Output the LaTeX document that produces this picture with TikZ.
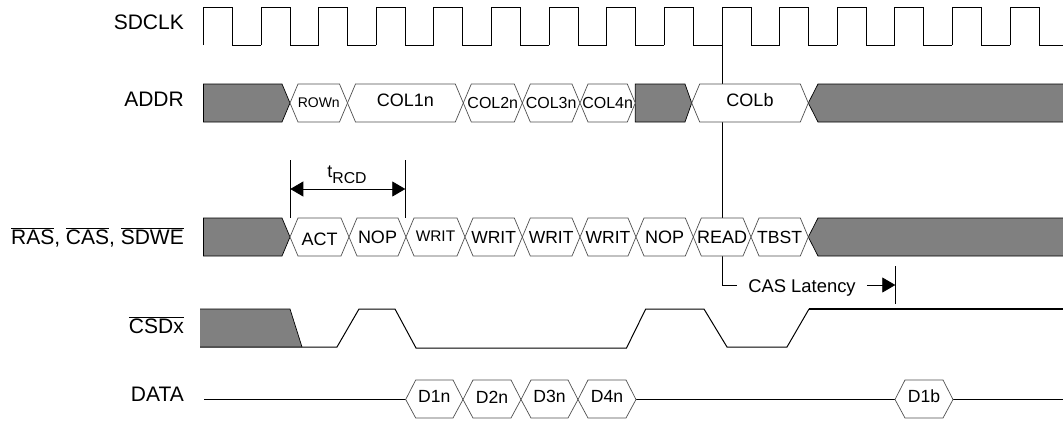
\documentclass[tikz,border=0pt]{standalone}
\usepackage{fontspec}
\setmainfont{Liberation Sans}
\usetikzlibrary{arrows.meta, positioning, calc}
\definecolor{grisBus}{HTML}{808080}
\definecolor{lineaHex}{HTML}{505050}

\begin{document}
\begin{tikzpicture}[x=1pt, y=-1pt,
        sig/.style={draw=black, line width=1pt},
        hexa/.style={draw=lineaHex, line width=0.7pt, fill=white},
        dontcare/.style={draw=black, line width=0.7pt, fill=grisBus},
        rowname/.style={anchor=base east, inner sep=0pt, font=\fontsize{21}{23}\selectfont},
        val/.style={anchor=base, inner sep=0pt},
        dim/.style={{Triangle[length=13pt,width=15pt]}-{Triangle[length=13pt,width=15pt]}, line width=0.8pt},
        lat/.style={-{Triangle[length=13pt,width=15pt]}, line width=0.8pt}]
    \useasboundingbox (0,0) rectangle (1063,421);
    % row names
    \node[rowname] (nclk)  at (184,29.3)  {SDCLK};
    \node[rowname] (naddr) at (184,106)   {ADDR};
    \node[rowname] (ncmd)  at (184,244.3) {$\overline{\mbox{RAS}}$, $\overline{\mbox{CAS}}$, $\overline{\mbox{SDWE}}$};
    \node[rowname] (ncs)   at (184,333.3) {$\overline{\mbox{CSDx}}$};
    \node[rowname] (ndata) at (184,401.7) {DATA};
    % clock
    \foreach \x in {203.5,261.1,318.7,376.3,433.9,491.5,549.1,606.7,664.3,722,779.5,837,894.7,952}
        \draw[sig] (\x,45) -- (\x,7) -- (\x+29,7) -- (\x+29,45) -- (\x+57.6,45);
    \draw[sig] (1010,45) -- (1010,7) -- (1039,7) -- (1039,45) -- (1063,45);
    % markers
    \coordinate (edge) at (722.3,45);
    \coordinate (tickA) at (290.3,160);
    \coordinate (tickB) at (405.3,160);
    \coordinate (dimA) at (290.3,189);
    \coordinate (dimB) at (405.3,189);
    \coordinate (castick) at (895.3,285);
    \node[inner xsep=11pt, inner ysep=0pt, text height=15.4pt, text depth=0pt, font=\fontsize{18.4}{20}\selectfont] (caslat) at (802,285) {CAS Latency};
    \node[val, font=\fontsize{18}{20}\selectfont] (trcd) at (347,177) {t\raisebox{-6pt}{\fontsize{15.8}{16}\selectfont RCD}};
    \draw[line width=0.8pt] (edge) |- (caslat.west);
    \draw[line width=0.8pt] (tickA) -- ++(0,58);
    \draw[line width=0.8pt] (tickB) -- ++(0,58);
    \draw[dim] (dimA) -- (dimB);
    \draw[line width=0.8pt] (castick) ++(0,-19) -- ++(0,38);
    \draw[lat] (caslat.east) -- (castick);
    % address bus
    \draw[dontcare] (203.5,84) -- (282,84) -- (290,103) -- (282,122) -- (203.5,122) -- cycle;
    \draw[dontcare] (635.3,84) -- (685,84) -- (691.7,103) -- (685,122) -- (635.3,122) -- cycle;
    \draw[dontcare] (1063,84) -- (818,84) -- (808.3,103) -- (818,122) -- (1063,122);
    \foreach \xa/\xb/\txt/\fs/\yb [count=\i] in {290/347.5/ROWn/14/107.5, 347.5/463.3/COL1n/18/106.7,
            463.3/522.3/COL2n/16/108, 522.3/580/COL3n/16/108, 580/635.3/COL4n/16/108, 691.7/808.3/COLb/18/106.7} {
        \draw[hexa] (\xa,103) -- (\xa+8,84) -- (\xb-8,84) -- (\xb,103) -- (\xb-8,122) -- (\xa+8,122) -- cycle;
        \node[val, font=\fontsize{\fs}{\fs}\selectfont] (addr\i) at ({(\xa+\xb)/2},\yb) {\txt};
    }
    % command bus
    \draw[dontcare] (203.5,218) -- (282,218) -- (290,237) -- (282,256) -- (203.5,256) -- cycle;
    \draw[dontcare] (1063,218) -- (818,218) -- (808.3,237) -- (818,256) -- (1063,256);
    \foreach \xa/\xb/\txt/\fs/\yb [count=\i] in {290/349/ACT/18/245, 349/406/NOP/18/243.5, 406/465/WRIT/15.4/241.7,
            465/522.3/WRIT/17.5/243.5, 522.3/580/WRIT/17.5/243.5, 580/636/WRIT/17.5/243.5,
            636/693.3/NOP/18/243.5, 693.3/751/READ/18/243.5, 751/808.3/TBST/17.6/243.5} {
        \draw[hexa] (\xa,237) -- (\xa+8,218) -- (\xb-8,218) -- (\xb,237) -- (\xb-8,256) -- (\xa+8,256) -- cycle;
        \node[val, font=\fontsize{\fs}{\fs}\selectfont] (cmd\i) at ({(\xa+\xb)/2},\yb) {\txt};
    }
    % chip select
    \fill[grisBus] (200,309) -- (290,309) -- (302,347) -- (200,347) -- cycle;
    \draw[line width=0.7pt] (200,309) -- (290,309) -- (302,347);
    \draw[sig] (200,347) -- (337,347) -- (359,309) -- (395,309) -- (416,348) -- (626.5,348) -- (645.7,309)
        -- (704,309) -- (727,347) -- (787,347) -- (809,309);
    \draw[line width=1.9pt] (808.5,309) -- (1063,309);
    % data bus
    \coordinate (dataIn) at (204,399.5);
    \coordinate (dataOut) at (1063,399.5);
    \draw[sig] (dataIn) -- (dataOut);
    \foreach \xa/\xb/\txt/\yb [count=\i] in {405.7/463/D1n/402, 463/521/D2n/403.5, 521/578/D3n/402, 578/636/D4n/402, 895/953/D1b/402} {
        \draw[hexa] (\xa,399.5) -- (\xa+10,380) -- (\xb-10,380) -- (\xb,399.5) -- (\xb-10,418) -- (\xa+10,418) -- cycle;
        \node[val, font=\fontsize{17.6}{18}\selectfont] (data\i) at ({(\xa+\xb)/2},\yb) {\txt};
    }
\end{tikzpicture}
\end{document}
